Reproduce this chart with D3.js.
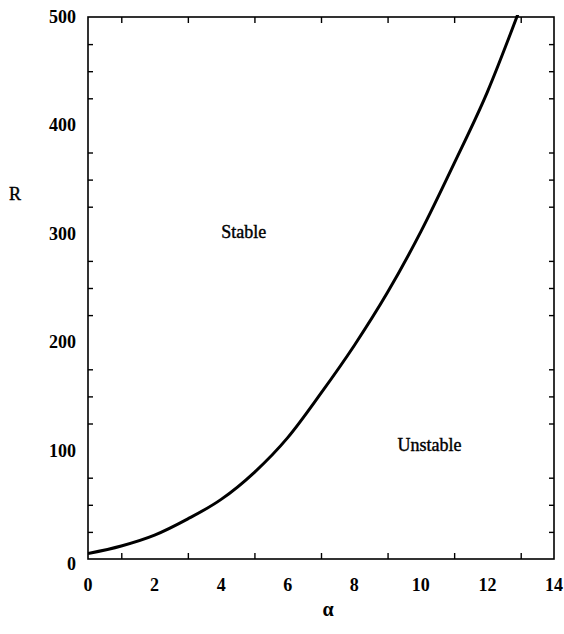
<!DOCTYPE html>
<html>
<head>
<meta charset="utf-8">
<script src="https://cdn.jsdelivr.net/npm/d3@7"></script>
<style>
  body { margin: 0; background: #fff; }
  svg text { font-family: "Liberation Serif", "DejaVu Serif", serif; fill: #000; }
</style>
</head>
<body>
<div id="chart"></div>
<script>
// neutral stability curve
const alpha = [0, 1, 2, 3, 4, 5, 6, 7, 8, 9, 10, 11, 12, 12.92];
const R = [5, 12, 22, 37, 55, 80, 112, 153, 197, 246, 302, 365, 431, 503];

const xTicks = [0, 2, 4, 6, 8, 10, 12, 14];
const yTicks = [0, 100, 200, 300, 400, 500];

const width = 564;
const height = 634;
const margin = { top: 17, right: 10, bottom: 75, left: 88 };

const svg = d3.select("#chart")
    .append("svg")
    .attr("width", width)
    .attr("height", height);

const x = d3.scaleLinear().domain([0, 14]).range([margin.left, width - margin.right]);
const y = d3.scaleLinear().domain([0, 500]).range([height - margin.bottom, margin.top]);

svg.append("defs").append("clipPath").attr("id", "clip")
    .append("rect")
    .attr("x", x(0)).attr("y", y(500) - 2)
    .attr("width", x(14) - x(0)).attr("height", y(0) - y(500) + 2);

// inward ticks on all four sides
function ticks(axisFn, scale, values, size) {
    return axisFn(scale).tickValues(values).tickSize(size).tickFormat("");
}
const xMinor = d3.range(1, 14, 2);
const yMinor = d3.range(25, 500, 25).filter(v => v % 100 !== 0);

const gBottom = svg.append("g").attr("transform", `translate(0,${y(0)})`);
gBottom.call(ticks(d3.axisTop, x, xTicks, 11));
gBottom.call(ticks(d3.axisTop, x, xMinor, 6));
const gTop = svg.append("g").attr("transform", `translate(0,${y(500)})`);
gTop.call(ticks(d3.axisBottom, x, xTicks, 11));
gTop.call(ticks(d3.axisBottom, x, xMinor, 6));
const gLeft = svg.append("g").attr("transform", `translate(${x(0)},0)`);
gLeft.call(ticks(d3.axisRight, y, yTicks, 11));
gLeft.call(ticks(d3.axisRight, y, yMinor, 5));
const gRight = svg.append("g").attr("transform", `translate(${x(14)},0)`);
gRight.call(ticks(d3.axisLeft, y, yTicks, 11));
gRight.call(ticks(d3.axisLeft, y, yMinor, 5));

svg.selectAll(".domain").remove();
svg.selectAll(".tick line").attr("stroke", "#000").attr("stroke-width", 1.4);

svg.append("rect")
    .attr("x", x(0)).attr("y", y(500))
    .attr("width", x(14) - x(0)).attr("height", y(0) - y(500))
    .attr("fill", "none").attr("stroke", "#000").attr("stroke-width", 1.6);

// tick labels
svg.append("g").selectAll("text")
    .data(xTicks).join("text")
    .attr("x", d => x(d)).attr("y", y(0) + 32)
    .attr("text-anchor", "middle")
    .attr("font-size", 18).attr("font-weight", "bold")
    .text(d => d);

svg.append("g").selectAll("text")
    .data(yTicks).join("text")
    .attr("x", x(0) - 12).attr("y", d => y(d) + (d === 0 ? 11 : 6))
    .attr("text-anchor", "end")
    .attr("font-size", 18).attr("font-weight", "bold")
    .text(d => d);

// axis titles
svg.append("text")
    .attr("x", 15).attr("y", 200)
    .attr("text-anchor", "middle")
    .attr("font-size", 18)
    .attr("stroke", "#000").attr("stroke-width", 0.4)
    .text("R");

svg.append("text")
    .attr("x", 328).attr("y", 616)
    .attr("text-anchor", "middle")
    .attr("font-size", 20).attr("font-weight", "bold")
    .text("α");

// region labels
svg.append("text")
    .attr("x", x(4.0)).attr("y", y(296))
    .attr("font-size", 18)
    .attr("stroke", "#000").attr("stroke-width", 0.4)
    .text("Stable");

svg.append("text")
    .attr("x", x(9.3)).attr("y", y(100))
    .attr("font-size", 18)
    .attr("stroke", "#000").attr("stroke-width", 0.4)
    .text("Unstable");

// curve
const pts = alpha.map((a, i) => [a, R[i]]);
svg.append("path")
    .datum(pts)
    .attr("clip-path", "url(#clip)")
    .attr("fill", "none")
    .attr("stroke", "#000")
    .attr("stroke-width", 3)
    .attr("d", d3.line().x(d => x(d[0])).y(d => y(d[1])).curve(d3.curveMonotoneX));
</script>
</body>
</html>
